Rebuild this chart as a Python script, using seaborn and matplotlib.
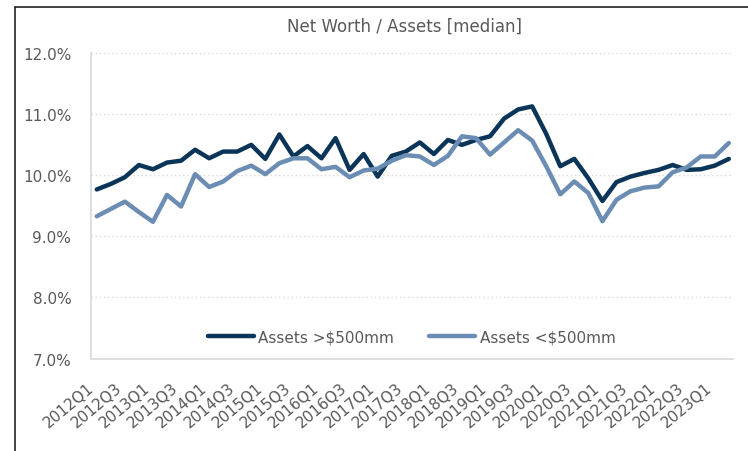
import matplotlib
matplotlib.use('Agg')
import matplotlib.pyplot as plt
import matplotlib.transforms as mtransforms
from matplotlib.lines import Line2D
from matplotlib.ticker import FuncFormatter
import seaborn as sns
import pandas as pd

quarters = [f"{y}Q{q}" for y in range(2012, 2024) for q in range(1, 5)][:46]

large = [9.77, 9.86, 9.97, 10.17, 10.10, 10.21, 10.24, 10.42, 10.28, 10.39,
         10.39, 10.50, 10.27, 10.67, 10.31, 10.48, 10.28, 10.61, 10.09, 10.35,
         9.98, 10.32, 10.39, 10.54, 10.35, 10.58, 10.50, 10.58, 10.64, 10.93,
         11.08, 11.13, 10.68, 10.15, 10.27, 9.95, 9.58, 9.89, 9.98, 10.04,
         10.09, 10.17, 10.09, 10.10, 10.16, 10.27]
small = [9.33, 9.45, 9.57, 9.40, 9.24, 9.68, 9.49, 10.02, 9.81, 9.90,
         10.07, 10.16, 10.02, 10.20, 10.28, 10.28, 10.10, 10.14, 9.97, 10.08,
         10.11, 10.24, 10.33, 10.31, 10.17, 10.32, 10.64, 10.61, 10.34, 10.54,
         10.74, 10.57, 10.15, 9.69, 9.90, 9.71, 9.25, 9.60, 9.74, 9.80,
         9.82, 10.05, 10.13, 10.31, 10.31, 10.53]
series_names = ["Assets >$500mm", "Assets <$500mm"]
title = "Net Worth / Assets [median]"

dark = "#0b3558"
light = "#6b8cb3"
text_col = "#595959"
grid_col = "#d9d9d9"

sns.set_theme(style="white")
plt.rcParams['font.family'] = ['DejaVu Sans']

fig = plt.figure(figsize=(7.48, 4.52), dpi=100)
ax = fig.add_axes([0.1213, 0.2046, 0.8587, 0.6753])

df = pd.DataFrame({
    "Quarter": quarters * 2,
    "Value": large + small,
    "Series": [series_names[0]] * len(large) + [series_names[1]] * len(small),
})
sns.lineplot(data=df, x="Quarter", y="Value", hue="Series",
             palette=[dark, light], linewidth=3.2, ax=ax, sort=False)

ax.set_ylim(7, 12)
ax.set_xlim(-0.43, 45.3)
ax.set_yticks([7, 8, 9, 10, 11, 12])
ax.yaxis.set_major_formatter(FuncFormatter(lambda v, p: f"{v:.1f}%"))
ax.set_xticks(range(0, 46, 2))
ax.set_xticklabels(quarters[0::2], rotation=40, ha='right', va='top')
offset = mtransforms.ScaledTranslation(5 / 100, 0, fig.dpi_scale_trans)
for lbl in ax.get_xticklabels():
    lbl.set_transform(lbl.get_transform() + offset)

ax.tick_params(axis='y', length=0, pad=14, labelsize=11, labelcolor=text_col)
ax.tick_params(axis='x', length=0, pad=15, labelsize=11, labelcolor=text_col)
ax.set_xlabel("")
ax.set_ylabel("")

ax.grid(axis='y', color=grid_col, linestyle=(0, (1, 2)), linewidth=1)
ax.grid(axis='x', visible=False)
for s in ['top', 'right']:
    ax.spines[s].set_visible(False)
for s in ['left', 'bottom']:
    ax.spines[s].set_color(grid_col)
    ax.spines[s].set_linewidth(1.2)

leg = ax.legend(loc='center', bbox_to_anchor=(0.5, 0.07), ncol=2, frameon=False,
                handlelength=3, handletextpad=0.3, columnspacing=2.3,
                fontsize=11, labelcolor=text_col)
for h in leg.get_lines():
    h.set_linewidth(3.2)

fig.text(0.541, 0.94, title, ha='center', va='center', fontsize=12, color=text_col)

# outer frame lines (left and top)
fig.add_artist(Line2D([15 / 748, 15 / 748], [0, 1 - 8 / 452], color='#222222', linewidth=1.2,
                      transform=fig.transFigure))
fig.add_artist(Line2D([15 / 748, 1], [1 - 8 / 452, 1 - 8 / 452], color='#222222', linewidth=1.2,
                      transform=fig.transFigure))

fig.savefig("out.png", dpi=100)
